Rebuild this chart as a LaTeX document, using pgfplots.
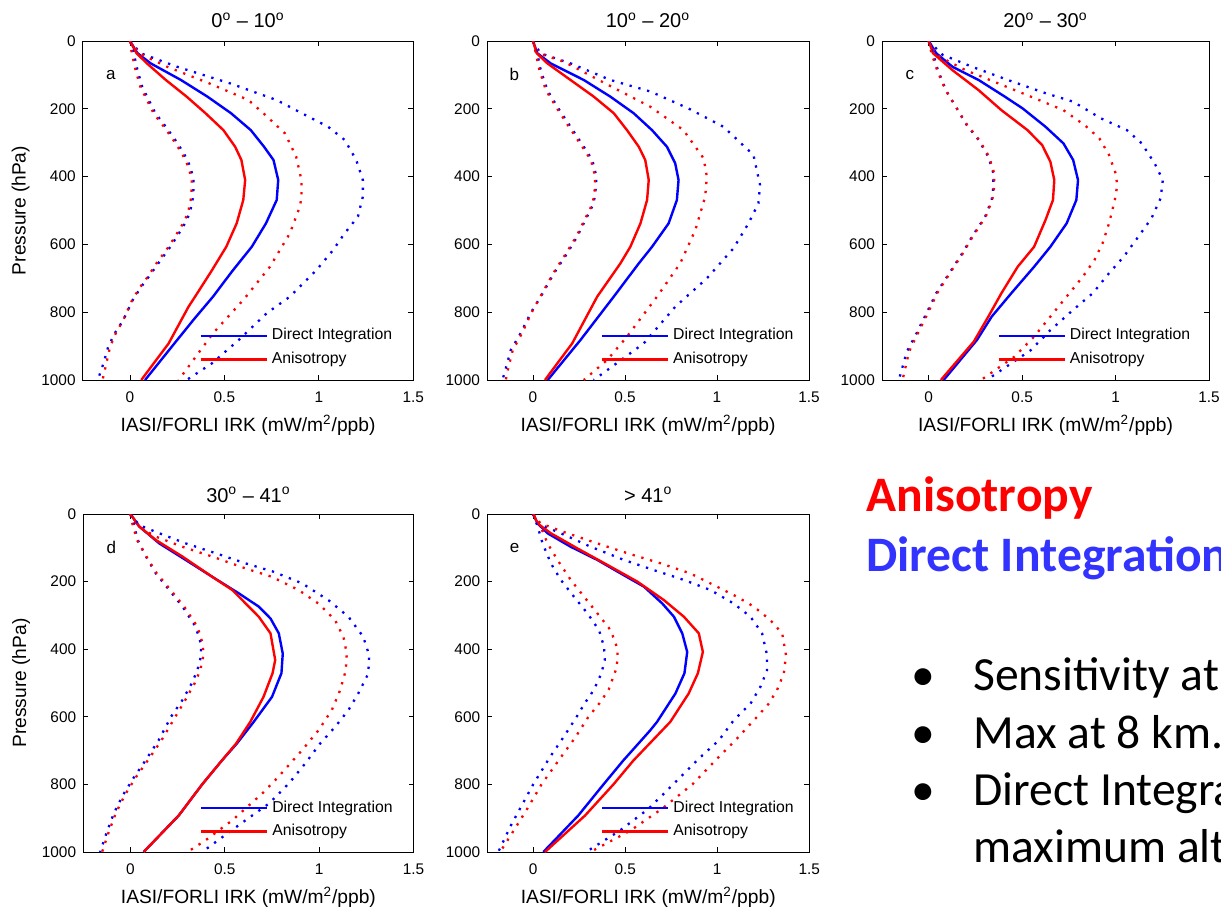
\documentclass[border=0pt]{standalone}
\usepackage{pgfplots}
\pgfplotsset{compat=1.18}
\usepackage{fontspec}
\setmainfont{Liberation Sans}
\newfontfamily\slidefont{Carlito}
\definecolor{diblue}{RGB}{0,0,255}
\definecolor{anred}{RGB}{255,0,0}
\definecolor{slideblue}{RGB}{51,51,255}
\pgfplotsset{
  irk/.style={
    scale only axis,
    anchor=north west,
    xmin=-0.25, xmax=1.5, ymin=0, ymax=1000, y dir=reverse,
    xtick={0,0.5,1,1.5}, ytick={0,200,400,600,800,1000},
    xticklabels={0,0.5,1,1.5},
    yticklabels={0,200,400,600,800,1000},
    tick align=inside, major tick length=2.5pt,
    tick style={black, line width=0.4pt},
    axis line style={line width=0.5pt},
    ticklabel style={font=\fontsize{7.7}{9}\selectfont},
    xticklabel style={yshift=-2.5pt},
    /pgf/number format/assume math mode=true,
    xlabel={IASI/FORLI IRK (mW/m\textsuperscript{2}/ppb)},
    xlabel style={at={(axis description cs:0.5,-0.133)}, anchor=center},
    ylabel style={at={(axis description cs:-0.188,0.5)}, anchor=center},
    label style={font=\fontsize{9.6}{11}\selectfont},
    title style={font=\fontsize{10}{12}\selectfont, anchor=base, yshift=0.6pt},
    legend style={draw=none, fill=none, font=\fontsize{7.9}{9}\selectfont,
      at={(axis description cs:0.352,0.165)}, anchor=north west, inner sep=0pt, row sep=0.6pt},
    legend cell align=left,
    legend image code/.code={\draw[#1, line width=1.2pt] (0pt,0pt) -- (33pt,0pt);},
  },
  di/.style={diblue, line width=1.2pt},
  an/.style={anred, line width=1.2pt},
  dib/.style={diblue, line width=1.15pt, dash pattern=on 1.15pt off 3.4pt, forget plot},
  anb/.style={anred, line width=1.15pt, dash pattern=on 1.15pt off 3.4pt, forget plot},
}
\newcommand{\plabel}[1]{\node[font=\fontsize{8.5}{10}\selectfont] at (axis description cs:0.085,0.9) {#1};}
\begin{document}
\begin{tikzpicture}
\useasboundingbox (0,0) rectangle (610.5pt,-455pt);
\clip (0,0) rectangle (610.5pt,-455pt);

% ---------- panel a ----------
\begin{axis}[irk, at={(41.35pt,-20.5pt)}, width=165.3pt, height=169.5pt,
  title={0\textsuperscript{o} – 10\textsuperscript{o}}, ylabel={Pressure (hPa)}]
\addplot[di] coordinates {(0,0) (0.04,36) (0.11,66) (0.27,115) (0.41,164) (0.535,213) (0.64,263) (0.71,312) (0.76,351) (0.785,410) (0.777,469) (0.72,538) (0.645,607) (0.54,680) (0.44,754) (0.34,820) (0.25,882) (0.08,1000)};
\addlegendentry{Direct Integration}
\addplot[an] coordinates {(0,0) (0.035,36) (0.09,66) (0.19,115) (0.30,164) (0.40,213) (0.495,263) (0.557,312) (0.59,351) (0.61,410) (0.60,469) (0.565,538) (0.51,607) (0.43,680) (0.345,754) (0.31,784) (0.205,892) (0.06,1000)};
\addlegendentry{Anisotropy}
\addplot[dib] coordinates {(0,0) (0.056,36) (0.25,76) (0.53,125) (0.776,174) (0.91,213) (1.049,253) (1.137,292) (1.198,351) (1.233,410) (1.233,459) (1.207,518) (1.137,567) (1.075,617) (0.987,676) (0.847,754) (0.724,803) (0.58,880) (0.434,951) (0.30,1000)};
\addplot[anb] coordinates {(0,0) (0.047,36) (0.197,76) (0.42,125) (0.627,174) (0.706,213) (0.82,272) (0.88,341) (0.908,410) (0.908,459) (0.9,488) (0.847,567) (0.741,666) (0.60,764) (0.44,862) (0.258,1000)};
\addplot[dib] coordinates {(0,0) (0.02,36) (0.04,86) (0.065,135) (0.10,174) (0.135,213) (0.19,253) (0.24,292) (0.285,331) (0.32,371) (0.337,410) (0.335,459) (0.32,500) (0.30,530) (0.26,567) (0.214,607) (0.15,656) (0.10,695) (0.06,725) (0.015,764) (-0.035,823) (-0.08,862) (-0.115,902) (-0.14,951) (-0.17,1000)};
\addplot[anb] coordinates {(0,0) (0.01,36) (0.03,86) (0.055,135) (0.09,174) (0.125,213) (0.18,253) (0.23,292) (0.275,331) (0.31,371) (0.327,410) (0.325,459) (0.31,500) (0.29,530) (0.25,567) (0.205,607) (0.14,656) (0.095,695) (0.055,725) (0.012,764) (-0.035,823) (-0.075,862) (-0.105,902) (-0.125,951) (-0.145,1000)};
\plabel{a}
\end{axis}

% ---------- panel b ----------
\begin{axis}[irk, at={(243.5pt,-20.5pt)}, width=161pt, height=169.5pt,
  title={10\textsuperscript{o} – 20\textsuperscript{o}}]
\addplot[di] coordinates {(0,0) (0.023,36) (0.096,66) (0.276,115) (0.42,164) (0.547,213) (0.647,263) (0.728,312) (0.773,361) (0.791,410) (0.782,469) (0.737,538) (0.647,607) (0.575,656) (0.439,754) (0.258,882) (0.08,1000)};
\addlegendentry{Direct Integration}
\addplot[an] coordinates {(0,0) (0.02,36) (0.078,66) (0.204,115) (0.33,164) (0.439,213) (0.511,263) (0.575,312) (0.61,351) (0.629,410) (0.62,469) (0.584,538) (0.529,607) (0.475,656) (0.349,754) (0.213,892) (0.065,1000)};
\addlegendentry{Anisotropy}
\addplot[dib] coordinates {(0,0) (0.04,36) (0.204,66) (0.421,115) (0.638,149) (0.845,199) (1.035,253) (1.198,336) (1.234,425) (1.225,479) (1.171,538) (1.089,612) (0.945,700) (0.773,784) (0.602,892) (0.33,1000)};
\addplot[anb] coordinates {(0,0) (0.03,36) (0.168,61) (0.41,130) (0.638,194) (0.818,263) (0.927,346) (0.945,400) (0.936,459) (0.882,558) (0.80,656) (0.674,754) (0.511,872) (0.403,941) (0.276,1000)};
\addplot[dib] coordinates {(0,0) (0.023,36) (0.042,86) (0.078,145) (0.132,194) (0.204,253) (0.276,312) (0.322,351) (0.345,400) (0.34,440) (0.33,479) (0.285,528) (0.24,577) (0.186,626) (0.114,685) (0.042,754) (-0.013,803) (-0.067,862) (-0.121,912) (-0.148,966) (-0.166,1000)};
\addplot[anb] coordinates {(0,0) (0.015,36) (0.035,86) (0.07,145) (0.125,194) (0.195,253) (0.268,312) (0.315,351) (0.338,400) (0.335,440) (0.325,479) (0.28,528) (0.235,577) (0.18,626) (0.11,685) (0.04,754) (-0.01,803) (-0.06,862) (-0.11,912) (-0.135,966) (-0.148,1000)};
\plabel{b}
\end{axis}

% ---------- panel c ----------
\begin{axis}[irk, at={(441pt,-20.5pt)}, width=163.5pt, height=169.5pt,
  title={20\textsuperscript{o} – 30\textsuperscript{o}}]
\addplot[di] coordinates {(0,0) (0.04,36) (0.127,76) (0.267,115) (0.407,164) (0.503,199) (0.625,253) (0.721,302) (0.773,351) (0.799,410) (0.79,469) (0.738,538) (0.651,607) (0.564,666) (0.442,744) (0.337,813) (0.258,882) (0.08,1000)};
\addlegendentry{Direct Integration}
\addplot[an] coordinates {(0,0) (0.023,36) (0.127,86) (0.267,145) (0.389,204) (0.529,263) (0.607,307) (0.651,356) (0.672,410) (0.665,469) (0.625,528) (0.564,607) (0.476,666) (0.389,744) (0.319,813) (0.241,887) (0.065,1000)};
\addlegendentry{Anisotropy}
\addplot[dib] coordinates {(0,0) (0.075,41) (0.232,76) (0.424,115) (0.625,154) (0.773,179) (0.921,228) (1.061,263) (1.14,302) (1.209,361) (1.253,410) (1.241,464) (1.192,523) (1.122,577) (1.044,636) (0.965,685) (0.878,744) (0.773,793) (0.651,853) (0.546,912) (0.415,961) (0.31,1000)};
\addplot[anb] coordinates {(0,0) (0.04,41) (0.197,86) (0.372,125) (0.546,164) (0.721,204) (0.834,248) (0.913,287) (0.965,336) (1.0,390) (1.009,425) (0.996,469) (0.965,538) (0.93,597) (0.887,646) (0.825,695) (0.738,754) (0.651,813) (0.564,872) (0.459,931) (0.28,1000)};
\addplot[dib] coordinates {(0,0) (0.023,36) (0.049,86) (0.092,145) (0.145,194) (0.197,243) (0.267,292) (0.319,341) (0.346,390) (0.346,430) (0.337,469) (0.302,518) (0.232,577) (0.18,626) (0.11,685) (0.04,744) (-0.012,803) (-0.065,862) (-0.117,916) (-0.16,1000)};
\addplot[anb] coordinates {(0,0) (0.015,36) (0.045,86) (0.09,145) (0.145,194) (0.2,243) (0.27,292) (0.323,341) (0.35,390) (0.35,430) (0.34,469) (0.305,518) (0.235,577) (0.183,626) (0.113,685) (0.045,744) (-0.005,803) (-0.058,862) (-0.105,916) (-0.14,1000)};
\plabel{c}
\end{axis}

% ---------- panel d ----------
\begin{axis}[irk, at={(41.6pt,-257pt)}, width=165.2pt, height=169pt,
  title={30\textsuperscript{o} – 41\textsuperscript{o}}, title style={yshift=-0.6pt}, ylabel={Pressure (hPa)}]
\addplot[di] coordinates {(0,0) (0.047,37) (0.153,87) (0.293,136) (0.434,186) (0.575,235) (0.68,274) (0.742,309) (0.786,353) (0.807,413) (0.80,471) (0.75,541) (0.653,615) (0.564,679) (0.485,729) (0.38,800) (0.256,892) (0.07,1000)};
\addlegendentry{Direct Integration}
\addplot[an] coordinates {(0,0) (0.047,37) (0.135,77) (0.276,126) (0.434,186) (0.54,225) (0.627,274) (0.68,304) (0.742,353) (0.767,432) (0.753,471) (0.705,541) (0.635,615) (0.56,679) (0.485,729) (0.38,800) (0.256,892) (0.07,1000)};
\addlegendentry{Anisotropy}
\addplot[dib] coordinates {(0,0) (0.047,33) (0.153,57) (0.293,87) (0.452,116) (0.61,146) (0.759,171) (0.909,205) (1.049,255) (1.155,304) (1.233,363) (1.265,418) (1.26,472) (1.207,531) (1.155,580) (1.084,630) (1.005,679) (0.926,738) (0.838,798) (0.733,857) (0.61,906) (0.487,956) (0.38,1000)};
\addplot[anb] coordinates {(0,0) (0.03,33) (0.135,67) (0.276,97) (0.434,126) (0.61,161) (0.75,186) (0.891,225) (0.996,265) (1.084,314) (1.128,363) (1.146,413) (1.141,462) (1.111,521) (1.067,580) (0.996,640) (0.909,699) (0.78,780) (0.698,827) (0.54,906) (0.399,965) (0.302,1000)};
\addplot[dib] coordinates {(0,0) (0.012,18) (0.039,77) (0.083,126) (0.135,176) (0.206,225) (0.276,274) (0.346,334) (0.373,383) (0.375,418) (0.355,462) (0.325,501) (0.275,551) (0.215,600) (0.15,669) (0.08,729) (0.02,778) (-0.04,832) (-0.088,886) (-0.128,946) (-0.16,1000)};
\addplot[anb] coordinates {(0,0) (0.005,18) (0.035,77) (0.085,126) (0.14,176) (0.213,225) (0.285,274) (0.355,334) (0.383,383) (0.387,418) (0.37,462) (0.34,501) (0.29,551) (0.238,600) (0.165,669) (0.092,729) (0.03,778) (-0.03,832) (-0.078,886) (-0.118,946) (-0.15,1000)};
\plabel{d}
\end{axis}

% ---------- panel e ----------
\begin{axis}[irk, at={(243.6pt,-257pt)}, width=161pt, height=169pt,
  title={> 41\textsuperscript{o}}, title style={yshift=-0.6pt}]
\addplot[di] coordinates {(0,0) (0.024,28) (0.078,57) (0.204,97) (0.349,136) (0.476,176) (0.602,215) (0.702,265) (0.765,304) (0.81,353) (0.837,408) (0.822,471) (0.773,531) (0.673,615) (0.636,640) (0.49,729) (0.382,800) (0.245,892) (0.055,1000)};
\addlegendentry{Direct Integration}
\addplot[an] coordinates {(0,0) (0.024,28) (0.096,57) (0.241,102) (0.421,156) (0.566,200) (0.711,255) (0.819,304) (0.9,353) (0.922,408) (0.895,471) (0.845,531) (0.745,615) (0.545,729) (0.436,800) (0.282,892) (0.064,1000)};
\addlegendentry{Anisotropy}
\addplot[dib] coordinates {(0,0) (0.024,28) (0.15,57) (0.313,97) (0.494,136) (0.656,166) (0.819,195) (0.964,225) (1.09,265) (1.181,304) (1.244,353) (1.271,418) (1.271,462) (1.235,511) (1.181,561) (1.09,610) (1.01,669) (0.89,729) (0.76,800) (0.627,872) (0.47,937) (0.287,1000)};
\addplot[anb] coordinates {(0,0) (0.04,28) (0.186,57) (0.349,87) (0.512,116) (0.693,146) (0.855,176) (0.999,215) (1.108,245) (1.199,274) (1.289,314) (1.353,353) (1.374,418) (1.362,472) (1.325,521) (1.28,561) (1.2,610) (1.10,669) (0.99,729) (0.865,800) (0.70,872) (0.527,937) (0.31,1000)};
\addplot[dib] coordinates {(0,0) (0.024,37) (0.051,87) (0.096,146) (0.15,195) (0.222,245) (0.295,294) (0.358,344) (0.385,393) (0.389,432) (0.37,472) (0.33,520) (0.28,560) (0.236,600) (0.165,660) (0.09,720) (0.0,800) (-0.06,860) (-0.12,920) (-0.19,1000)};
\addplot[anb] coordinates {(0,0) (0.04,37) (0.078,87) (0.132,136) (0.204,195) (0.277,245) (0.349,294) (0.421,344) (0.458,398) (0.458,432) (0.45,460) (0.41,520) (0.36,560) (0.30,600) (0.23,660) (0.15,720) (0.045,800) (-0.03,870) (-0.11,940) (-0.18,1000)};
\plabel{e}
\end{axis}

% ---------- slide text ----------
\node[anchor=base west, inner sep=0pt, text=anred, font=\slidefont\bfseries\fontsize{24.8}{28}\selectfont] at (433pt,-255.9pt) {Anisotropy};
\node[anchor=base west, inner sep=0pt, text=slideblue, font=\slidefont\bfseries\fontsize{24.8}{28}\selectfont] at (433pt,-285.5pt) {Direct Integration};
\begin{scope}[every node/.style={anchor=base west, inner sep=0pt, font=\slidefont\fontsize{23.8}{28}\selectfont}]
\node at (455.5pt,-345.3pt) {•};
\node at (486.5pt,-345.3pt) {Sensitivity at};
\node at (455.5pt,-374.2pt) {•};
\node at (486.5pt,-374.2pt) {Max at 8 km.};
\node at (455.5pt,-402.8pt) {•};
\node at (486.5pt,-402.8pt) {Direct Integration};
\node at (486.5pt,-431.2pt) {maximum altitude};
\end{scope}
\end{tikzpicture}
\end{document}
